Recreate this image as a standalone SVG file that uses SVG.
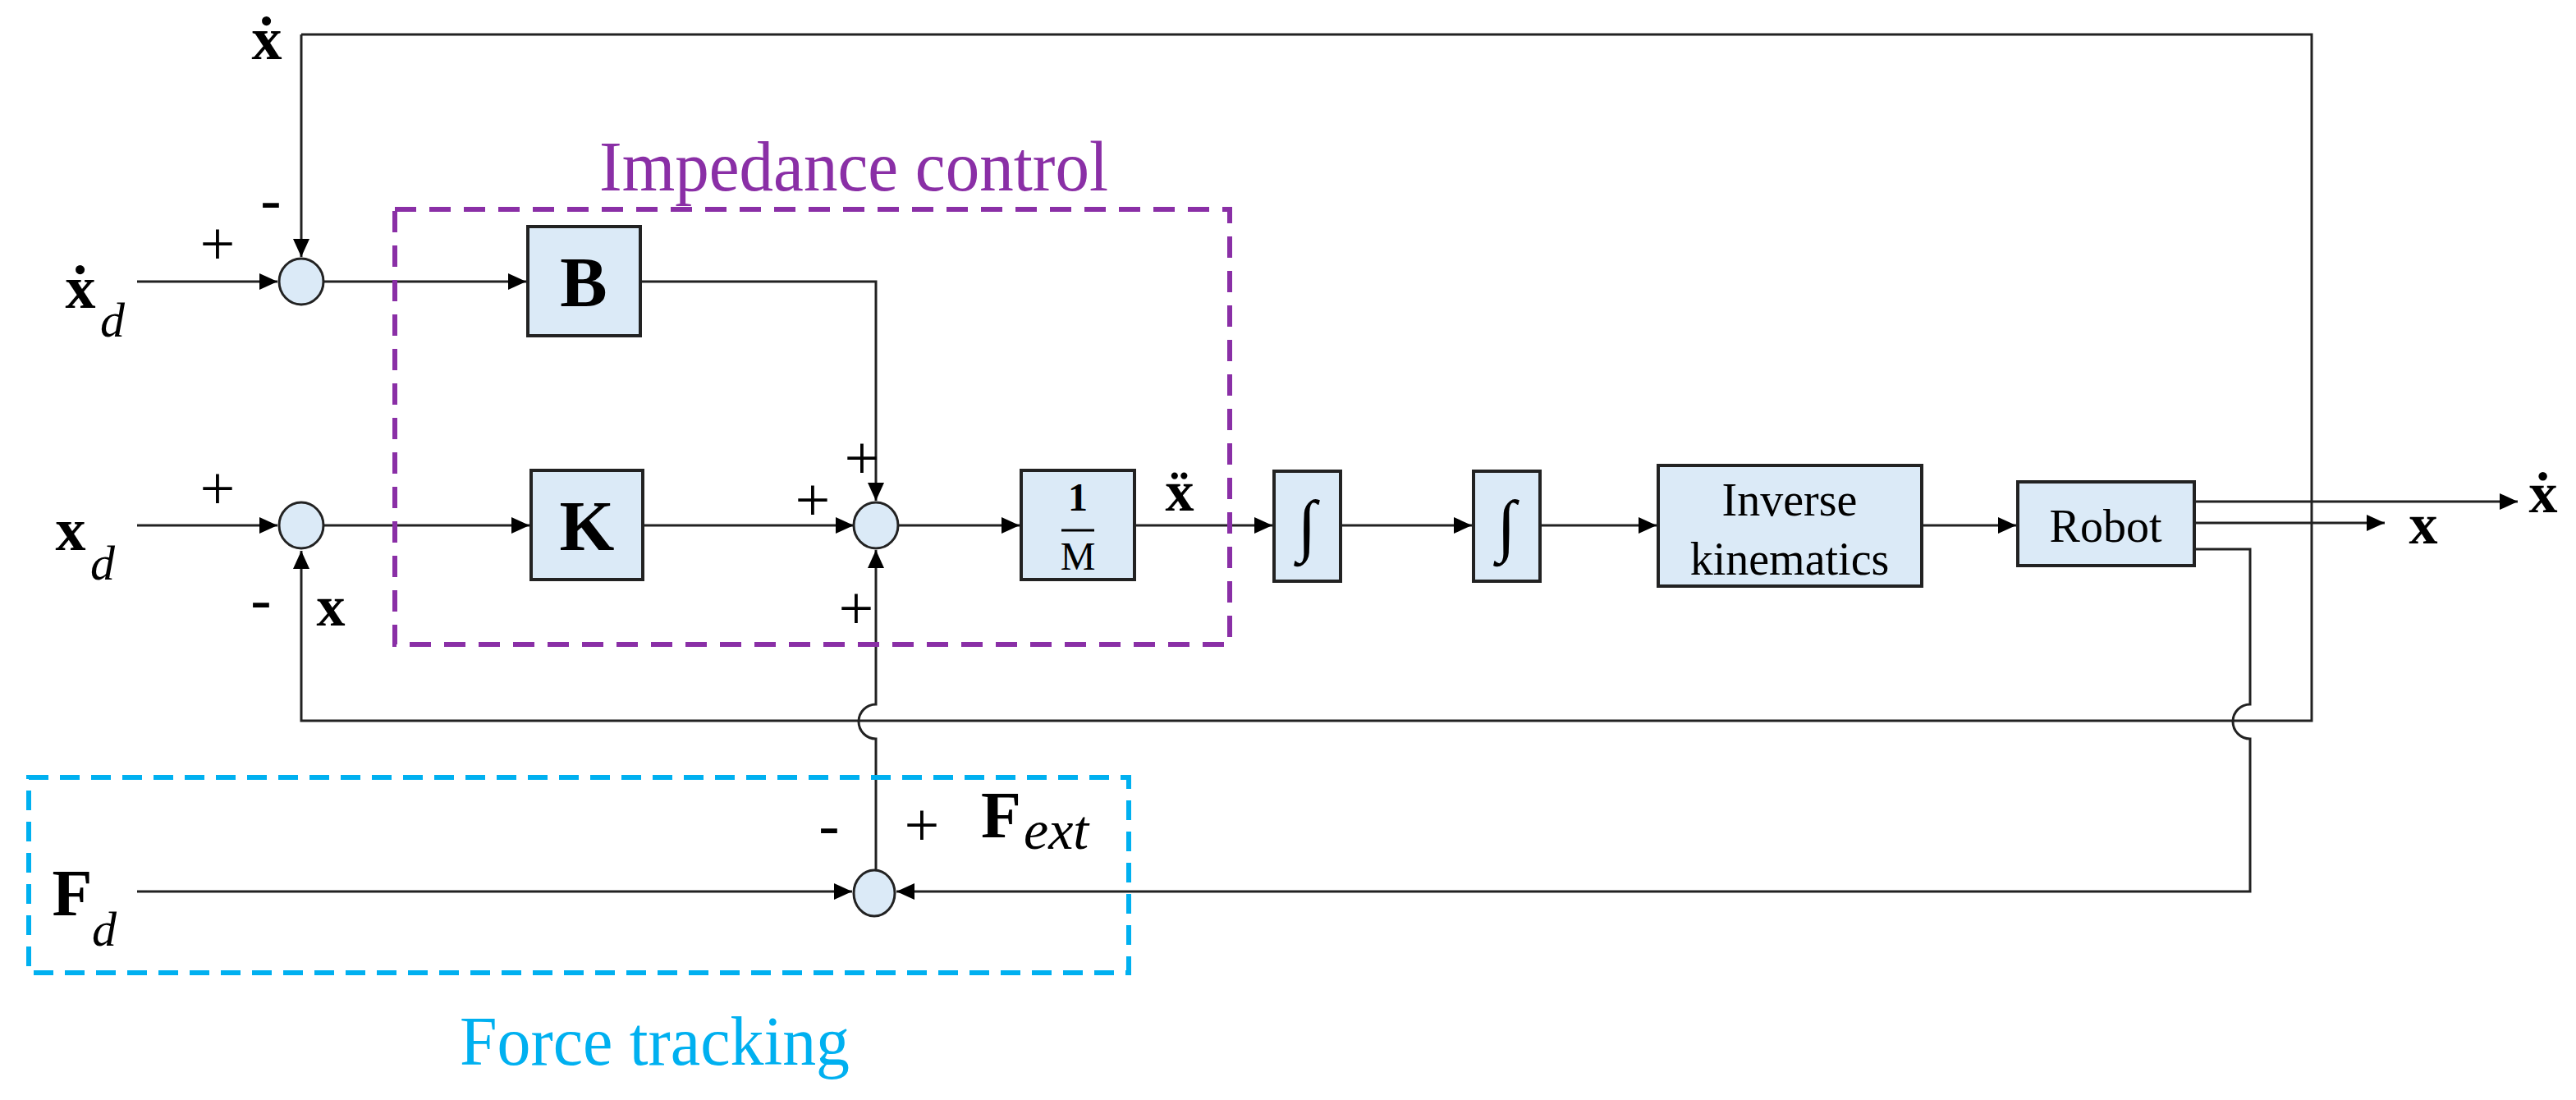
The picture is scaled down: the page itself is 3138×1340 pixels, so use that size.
<svg xmlns="http://www.w3.org/2000/svg" width="3138" height="1340" viewBox="0 0 3138 1340">
<style>
.box{fill:#dbeaf7;stroke:#222;stroke-width:4}
.sum{fill:#dbeaf7;stroke:#222;stroke-width:3}
.ln{fill:none;stroke:#222;stroke-width:3}
.t{font-family:"Liberation Serif",serif;fill:#000}
.b{font-weight:bold}
.sg{font-family:"Liberation Serif",serif;font-size:76px;fill:#000}
</style>
<defs>
<marker id="a" markerUnits="userSpaceOnUse" markerWidth="24" markerHeight="24" refX="22" refY="12" orient="auto"><path d="M0,2 L22,12 L0,22 Z" fill="#000"/></marker>
</defs>
<rect width="3138" height="1340" fill="#fff"/>
<g id="connectors">
<path class="ln" d="M167,343 H338" marker-end="url(#a)"/>
<path class="ln" d="M167,640 H338" marker-end="url(#a)"/>
<path class="ln" d="M367,42 H2816 V878 H367 V671" marker-end="url(#a)"/>
<path class="ln" d="M367,42 V313" marker-end="url(#a)"/>
<path class="ln" d="M395,343 H641" marker-end="url(#a)"/>
<path class="ln" d="M395,640 H645" marker-end="url(#a)"/>
<path class="ln" d="M780,343 H1067 V610" marker-end="url(#a)"/>
<path class="ln" d="M783,640 H1040" marker-end="url(#a)"/>
<path class="ln" d="M1095,640 H1242" marker-end="url(#a)"/>
<path class="ln" d="M1382,640 H1550" marker-end="url(#a)"/>
<path class="ln" d="M1633,640 H1793" marker-end="url(#a)"/>
<path class="ln" d="M1876,640 H2018" marker-end="url(#a)"/>
<path class="ln" d="M2341,640 H2456" marker-end="url(#a)"/>
<path class="ln" d="M2673,611 H3067" marker-end="url(#a)"/>
<path class="ln" d="M2673,637 H2905" marker-end="url(#a)"/>
<path class="ln" d="M1067,1060 V900 A21,21 0 0,1 1067,858 V670" marker-end="url(#a)"/>
<path class="ln" d="M2673,669 H2741 V858 A21,21 0 0,0 2741,900 V1086 H1092" marker-end="url(#a)"/>
<path class="ln" d="M167,1086 H1038" marker-end="url(#a)"/>
</g>
<g id="impedance-group">
<rect x="481" y="255" width="1017" height="530" fill="none" stroke="#8a2fa6" stroke-width="6" stroke-dasharray="26,16"/>
<text class="t" x="730" y="232" font-size="86" style="fill:#8a2fa6" textLength="620" lengthAdjust="spacingAndGlyphs">Impedance control</text>
</g>
<g id="force-group">
<rect x="35" y="947" width="1340" height="238" fill="none" stroke="#00b0f0" stroke-width="6" stroke-dasharray="24,14"/>
<text class="t" x="560" y="1297" font-size="84" style="fill:#00b0f0" textLength="475" lengthAdjust="spacingAndGlyphs">Force tracking</text>
</g>
<g id="sum1"><ellipse class="sum" cx="367" cy="343" rx="27" ry="28"/></g>
<g id="sum2"><ellipse class="sum" cx="367" cy="640" rx="27" ry="28"/></g>
<g id="sum3"><ellipse class="sum" cx="1067" cy="640" rx="27" ry="28"/></g>
<g id="sum4"><ellipse class="sum" cx="1065" cy="1088" rx="25" ry="28"/></g>
<g id="B"><rect class="box" x="643" y="276" width="137" height="133"/><text class="t b" x="711" y="373" font-size="86" text-anchor="middle">B</text></g>
<g id="K"><rect class="box" x="647" y="573" width="136" height="133"/><text class="t b" x="715" y="670" font-size="86" text-anchor="middle">K</text></g>
<g id="invM"><rect class="box" x="1244" y="573" width="138" height="133"/>
<text class="t b" x="1313" y="622" font-size="48" text-anchor="middle">1</text>
<line x1="1293" y1="646" x2="1333" y2="646" stroke="#000" stroke-width="3"/>
<text class="t" x="1313" y="694" font-size="48" text-anchor="middle">M</text></g>
<g id="int1"><rect class="box" x="1552" y="574" width="81" height="134"/><text class="t" x="1592" y="668" font-size="84" text-anchor="middle">∫</text></g>
<g id="int2"><rect class="box" x="1795" y="574" width="81" height="134"/><text class="t" x="1835" y="668" font-size="84" text-anchor="middle">∫</text></g>
<g id="ik"><rect class="box" x="2020" y="567" width="321" height="147"/>
<text class="t" x="2180" y="628" font-size="56" text-anchor="middle">Inverse</text>
<text class="t" x="2180" y="700" font-size="56" text-anchor="middle">kinematics</text></g>
<g id="robot"><rect class="box" x="2458" y="587" width="215" height="102"/><text class="t" x="2565" y="660" font-size="56" text-anchor="middle">Robot</text></g>
<g id="labels">
<text class="t b" x="325" y="72" font-size="74" text-anchor="middle">ẋ</text>
<text class="t b" x="98" y="375" font-size="74" text-anchor="middle">ẋ</text>
<text class="t" x="122" y="410" font-size="60" font-style="italic">d</text>
<text class="t b" x="86" y="670" font-size="74" text-anchor="middle">x</text>
<text class="t" x="110" y="706" font-size="60" font-style="italic">d</text>
<text class="sg" x="265" y="322" text-anchor="middle">+</text>
<text class="sg" x="330" y="268" text-anchor="middle">-</text>
<text class="sg" x="265" y="620" text-anchor="middle">+</text>
<text class="sg" x="318" y="755" text-anchor="middle">-</text>
<text class="t b" x="403" y="762" font-size="70" text-anchor="middle">x</text>
<text class="sg" x="1050" y="583" text-anchor="middle">+</text>
<text class="sg" x="990" y="634" text-anchor="middle">+</text>
<text class="sg" x="1043" y="766" text-anchor="middle">+</text>
<text class="t b" x="1437" y="622" font-size="70" text-anchor="middle">ẍ</text>
<text class="t b" x="3098" y="624" font-size="70" text-anchor="middle">ẋ</text>
<text class="t b" x="2952" y="662" font-size="70" text-anchor="middle">x</text>
<text class="t b" x="88" y="1115" font-size="80" text-anchor="middle">F</text>
<text class="t" x="112" y="1152" font-size="60" font-style="italic">d</text>
<text class="sg" x="1010" y="1030" text-anchor="middle">-</text>
<text class="sg" x="1123" y="1030" text-anchor="middle">+</text>
<text class="t b" x="1195" y="1020" font-size="80">F</text>
<text class="t" x="1247" y="1034" font-size="68" font-style="italic">ext</text>
</g>
</svg>
